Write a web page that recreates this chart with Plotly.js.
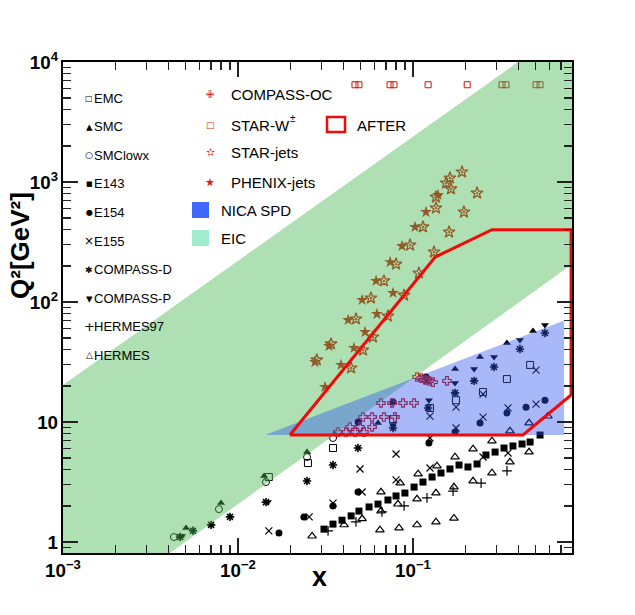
<!DOCTYPE html>
<html><head><meta charset="utf-8">
<script src="https://cdn.plot.ly/plotly-3.0.1.min.js"></script>
<style>html,body{margin:0;padding:0;background:#fff}</style>
</head><body><div id="chart" style="width:635px;height:615px"></div>
<script>
// ---------------- DIS data : x , Q^2 [GeV^2] ----------------
const emcX  = [0.0150, 0.0251, 0.0349, 0.0769, 0.125, 0.176, 0.251, 0.344, 0.467];
const emcQ2 = [3.48, 4.55, 6.07, 10.6, 13.1, 15.2, 17.8, 22.8, 29.9];

const smcX  = [0.00505, 0.0080, 0.0141, 0.0248, 0.0355, 0.0631, 0.120, 0.174, 0.2415, 0.344, 0.485];
const smcQ2 = [1.31, 2.11, 3.55, 5.62, 7.94, 9.81, 21.5, 27.7, 34.8, 45.5, 57.3];

const smcLowX  = [0.0043, 0.00778, 0.01445, 0.0248, 0.0349];
const smcLowQ2 = [1.10, 1.88, 3.16, 5.11, 7.36];

const e143X  = [0.0310,0.0349,0.0393,0.0443,0.0491,0.0561,0.0631,0.0719,0.0800,0.0899,0.1014,0.1140,0.1285,
                0.1445,0.1626,0.1832,0.206,0.2323,0.2612,0.2944,0.3311,0.3724,0.4198,0.4667,0.5321];
const e143Q2 = [1.28,1.41,1.52,1.65,1.81,1.96,2.07,2.24,2.42,2.56,2.87,3.16,3.48,
                3.76,4.06,4.38,4.22,4.47,5.31,5.62,6.07,6.31,6.56,6.81,7.79];

const e154X  = [0.01714, 0.0238, 0.0349, 0.0485, 0.0485, 0.0769, 0.1186, 0.1233, 0.1738, 0.2415, 0.3443, 0.4426, 0.5675];
const e154Q2 = [1.19, 1.62, 2.0, 2.61, 10.0, 14.7, 23.7, 6.68, 8.25, 9.81, 11.9, 13.3, 15.2];

const e155X  = [0.0150, 0.0255, 0.0349, 0.0512, 0.0498, 0.0800, 0.0800, 0.125, 0.125, 0.2512, 0.3491,
                0.125, 0.1762, 0.1762, 0.2512, 0.2512, 0.3491, 0.5047, 0.5047];
const e155Q2 = [1.24, 1.62, 2.11, 2.61, 4.06, 5.41, 3.29, 4.14, 7.36, 5.11, 5.52,
                11.2, 13.3, 8.91, 11.0, 17.1, 13.1, 14.1, 27.1];

const compDX  = [0.00467,0.00553,0.00702,0.0090,0.01445,0.0248,0.0349,0.0485,0.0769,0.1219,0.1738,0.2234,0.2904,0.4083,0.5675];
const compDQ2 = [1.10,1.24,1.39,1.62,2.15,3.22,4.38,6.07,8.91,13.1,17.5,22.0,28.7,40.6,55.2];

const compPX  = [0.00479,0.01482,0.0769,0.1233,0.1738,0.2234,0.2904,0.4083,0.5675];
const compPQ2 = [1.12,2.15,9.44,15.2,21.1,27.7,34.8,48.2,64.3];

const herm97X  = [0.0327,0.0472,0.0665,0.0889,0.1202,0.1694,0.2449,0.3443];
const herm97Q2 = [1.24,1.47,1.78,2.0,2.33,2.66,3.10,3.91];

const hermX  = [0.0265,0.0404,0.0512,0.0647,0.0656,0.0656,0.0820,0.0844,0.0832,0.1054,0.1054,0.1069,0.1352,0.1352,
                0.1371,0.1714,0.1714,0.1738,0.2203,0.2203,0.2825,0.2825,0.3581,0.4603,0.3581,0.4603,0.5902];
const hermQ2 = [1.12,1.39,1.56,1.26,1.81,2.61,2.07,3.10,1.31,1.39,2.28,3.69,1.47,2.56,
                4.30,1.58,2.87,5.11,3.22,5.96,3.76,6.95,4.64,5.62,8.41,9.81,11.2];

// ---------------- polarised pp / SIDIS-OC ----------------
const compOcX  = [0.1054,0.1112,0.1173,0.1234,0.130,0.1563, 0.0656,0.0759,0.0877,0.1014,
                  0.0518,0.0584,0.0682,0.0789, 0.0437,0.0498,0.0584, 0.0372,0.0414,0.0467,0.0525];
const compOcQ2 = [23.7,23.2,22.4,22.0,21.5,22.0, 14.4,14.4,14.4,14.4,
                  11.0,11.0,11.0,11.0, 9.09,9.09,9.09, 8.25,8.25,8.25,8.25];

const starWX  = [0.0466,0.0491,0.0739,0.0779,0.122,0.204,0.3225,0.340,0.5047,0.5318];
const starWQ2 = [6464,6464,6464,6464,6464,6464,6464,6464,6464,6464];

const starJetX  = [0.1905,0.1626,0.1546,0.1648,0.2323,0.1352,0.1352,0.1954,0.114,0.1607,0.0962,0.1318,
                   0.080,0.108,0.0682,0.0889,0.0575,0.0719,0.0472,0.059,0.0518,0.0443,0.034,0.0282];
const starJetQ2 = [1212,1080,981,875,809,750,607,562,422,383,298,261,
                   207,174,150,114,108,76.4,72.2,51.1,39.8,28.2,44.7,32.9];

const phenixX  = [0.139,0.1186,0.1026,0.0865,0.0740,0.0615,0.0769,0.0512,0.0622,0.0426,0.0532,0.0331,0.0460,0.0275,0.0388,0.0314];
const phenixQ2 = [780,562,422,293,215,150,119,104,79.4,70.8,56.2,43.0,41.4,31.6,29.9,19.6];

// ---------------- kinematic regions ----------------
const eicX  = [0.001, 0.001, 0.398, 0.81, 0.81, 0.00408, 0.001];
const eicQ2 = [0.81, 20.3, 10000, 10000, 206, 0.81, 0.81];

const nicaX  = [0.0143, 0.73, 0.73, 0.0143];
const nicaQ2 = [7.8, 7.8, 70, 7.8];

const afterX  = [0.0198, 0.134, 0.283, 0.80, 0.80, 0.425, 0.0198];
const afterQ2 = [7.8, 237, 400, 400, 16.8, 7.8, 7.8];

// ---------------- legend texts ----------------
const col1Labels = ['EMC','SMC','SMClowx','E143','E154','E155','COMPASS-D','COMPASS-P','HERMES97','HERMES'];
const col1Glyphs = ['□','▴','○','■','●','×','✱','▾','+','△'];
const col1GlyphSize = [8,13,9,7,8,12,9,13,13,9];
const col2Labels = ['COMPASS-OC','STAR-W','STAR-jets','PHENIX-jets'];
const col2Glyphs = ['✙','□','✫','★'];
const col2GlyphSize = [10,9,11,11];

// ---------------- build ----------------
function pts(x, y, symbol, size, color, lw) {
  return {type:'scatter', mode:'markers', x:x, y:y, hoverinfo:'x+y',
    marker:{symbol:symbol, size:size, color:color, line:{color:color, width:lw||0}}};
}
const RED = 'rgb(225,30,15)';
const MRED = 'rgb(205,22,8)';
const traces = [
  pts(emcX, emcQ2, 'square-open', 7, 'black', 1),
  pts(smcX, smcQ2, 'triangle-up', 7, 'black'),
  pts(smcLowX, smcLowQ2, 'circle-open', 7, 'black', 1),
  pts(e143X, e143Q2, 'square', 7, 'black'),
  pts(e154X, e154Q2, 'circle', 7, 'black'),
  pts(e155X, e155Q2, 'x-thin-open', 7, 'black', 1.2),
  pts(compDX, compDQ2, 'asterisk-open', 7, 'black', 1.6),
  pts(compPX, compPQ2, 'triangle-down', 7, 'black'),
  pts(herm97X, herm97Q2, 'cross-thin-open', 7, 'black', 1.2),
  pts(hermX, hermQ2, 'triangle-up-open', 7.5, 'black', 1.2),
  pts(compOcX, compOcQ2, 'cross-open', 7, MRED, 1.2),
  pts(starWX, starWQ2, 'square-open', 6, MRED, 1),
  pts(starJetX, starJetQ2, 'star-open-dot', 9, MRED, 1.3),
  pts(phenixX, phenixQ2, 'star', 9, MRED),
  {type:'scatter', mode:'lines', x:eicX, y:eicQ2, fill:'toself', fillcolor:'rgba(69,184,83,0.435)',
   line:{width:0}, hoverinfo:'skip'},
  {type:'scatter', mode:'lines', x:nicaX, y:nicaQ2, fill:'toself', fillcolor:'rgba(43,82,238,0.41)',
   line:{width:0}, hoverinfo:'skip'},
  {type:'scatter', mode:'lines', x:afterX, y:afterQ2, line:{color:'rgb(240,10,10)', width:3}, hoverinfo:'skip'}
];

const PW = 509, PH = 491, L = 63, B = 553;
const px = v => (v - L) / PW;
const py = v => (B - v) / PH;
const FAM = 'Liberation Sans, Arial, sans-serif';

const ann = [];
col1Labels.forEach((t, i) => {
  const yy = py(98 + i*28.6);
  ann.push({xref:'paper', yref:'paper', x:px(89), y:yy, xanchor:'center', yanchor:'middle',
    showarrow:false, text:col1Glyphs[i], font:{size:col1GlyphSize[i], family:'DejaVu Sans', color:'black'}});
  ann.push({xref:'paper', yref:'paper', x:px(92), y:yy, xanchor:'left', yanchor:'middle',
    showarrow:false, text:t, font:{size:13, family:FAM, color:'black'}});
});
const col2Y = [95, 125, 152, 182];
col2Labels.forEach((t, i) => {
  ann.push({xref:'paper', yref:'paper', x:px(210), y:py(col2Y[i]), xanchor:'center', yanchor:'middle',
    showarrow:false, text:col2Glyphs[i], font:{size:col2GlyphSize[i], family:'DejaVu Sans', color:RED}});
  ann.push({xref:'paper', yref:'paper', x:px(230), y:py(col2Y[i]), xanchor:'left', yanchor:'middle',
    showarrow:false, text:t, font:{size:15, family:FAM, color:'black'}, borderpad:0});
});
ann.push({xref:'paper', yref:'paper', x:px(289), y:py(119), xanchor:'left', yanchor:'middle', showarrow:false,
  text:'±', font:{size:10, family:FAM, color:'black'}, borderpad:0});
ann.push({xref:'paper', yref:'paper', x:px(219), y:py(210), xanchor:'left', yanchor:'middle', showarrow:false,
  text:'NICA SPD', font:{size:15, family:FAM, color:'black'}});
ann.push({xref:'paper', yref:'paper', x:px(219), y:py(238), xanchor:'left', yanchor:'middle', showarrow:false,
  text:'EIC', font:{size:15, family:FAM, color:'black'}});
ann.push({xref:'paper', yref:'paper', x:px(355), y:py(125), xanchor:'left', yanchor:'middle', showarrow:false,
  text:'AFTER', font:{size:15, family:FAM, color:'black'}});
// axis titles
ann.push({xref:'paper', yref:'paper', x:px(20), y:py(246), xanchor:'center', yanchor:'middle', showarrow:false,
  textangle:-90, text:'Q²[GeV²]',
  font:{size:26, family:FAM, color:'black', weight:'bold'}});
ann.push({xref:'paper', yref:'paper', x:px(319), y:py(577), xanchor:'center', yanchor:'middle', showarrow:false,
  text:'x', font:{size:27, family:FAM, color:'black', weight:'bold'}});

const shapes = [
  {type:'rect', xref:'paper', yref:'paper', x0:px(192), x1:px(209), y0:py(218), y1:py(202),
   fillcolor:'rgb(65,105,255)', line:{width:0}},
  {type:'rect', xref:'paper', yref:'paper', x0:px(192), x1:px(209), y0:py(246), y1:py(230),
   fillcolor:'rgb(160,236,208)', line:{width:0}},
  {type:'rect', xref:'paper', yref:'paper', x0:px(327), x1:px(345), y0:py(132), y1:py(117),
   fillcolor:'rgba(0,0,0,0)', line:{color:'rgb(240,10,10)', width:2.5}}
];

function axis(rng) {
  return {type:'log', range:rng, dtick:1, exponentformat:'power',
    ticks:'inside', ticklen:15, tickwidth:1.3, tickcolor:'#222',
    showline:true, linewidth:2, linecolor:'black', mirror:'allticks',
    showgrid:false, zeroline:false,
    minor:{ticks:'inside', ticklen:8, tickwidth:1.3, tickcolor:'#222', showgrid:false},
    tickfont:{size:15, family:FAM, color:'black', weight:'bold'}};
}
const xa = axis([-3, Math.log10(0.81)]);
const ya = axis([Math.log10(0.81), 4]);

const layout = {
  width:635, height:615, margin:{l:63, r:63, t:62, b:62},
  paper_bgcolor:'white', plot_bgcolor:'white', showlegend:false,
  font:{family:FAM, color:'black'},
  xaxis:xa, yaxis:ya, annotations:ann, shapes:shapes
};
Plotly.newPlot('chart', traces, layout, {displayModeBar:false, staticPlot:true});
</script></body></html>
